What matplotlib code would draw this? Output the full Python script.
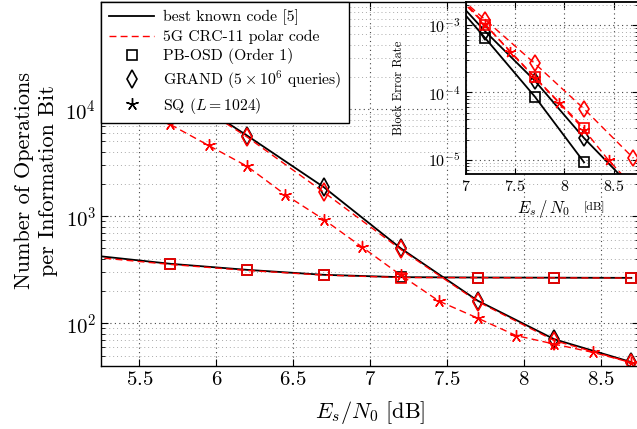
import matplotlib
matplotlib.use('Agg')
import matplotlib.pyplot as plt
import matplotlib.ticker as ticker
from matplotlib.lines import Line2D

plt.rcParams['font.family'] = 'serif'
plt.rcParams['font.serif'] = ['cmr10']
plt.rcParams['mathtext.fontset'] = 'cm'
plt.rcParams['axes.formatter.use_mathtext'] = True

# ---- main plot: complexity (operations per information bit) ----
x_osd = [5.2, 5.7, 6.2, 6.7, 7.2, 7.7, 8.2, 8.7]
ops_osd_best = [430, 360, 316, 284, 270, 268, 267, 266]
ops_osd_polar = [415, 355, 312, 282, 268, 267, 266, 265]

x_grand = [5.7, 6.2, 6.7, 7.2, 7.7, 8.2, 8.7]
ops_grand_best = [16500, 5670, 1866, 502, 163, 71, 43.5]
ops_grand_polar = [16000, 5500, 1675, 490, 160, 69, 43]

x_sq = [5.45, 5.7, 5.95, 6.2, 6.45, 6.7, 6.95, 7.2, 7.45, 7.7, 7.95, 8.2, 8.45, 8.7]
ops_sq_polar = [11500, 7200, 4580, 2930, 1585, 931, 514, 282, 161, 112, 77, 64, 53.6, 43]

# ---- inset: block error rate ----
xb_osd = [6.7, 7.2, 7.7, 8.2]
bler_osd_best = [4.5e-3, 6.35e-4, 8.7e-5, 9.2e-6]
bler_osd_polar = [5.6e-3, 1.0e-3, 1.69e-4, 2.97e-5]

xb_grand = [6.7, 7.2, 7.7, 8.2, 8.7]
bler_grand_best = [5.0e-3, 8.0e-4, 1.5e-4, 2.1e-5, 3.7e-6]
bler_grand_polar = [5.2e-3, 1.19e-3, 2.7e-4, 5.7e-5, 1.06e-5]

xb_sq = [6.95, 7.2, 7.45, 7.7, 7.95, 8.2, 8.45, 8.7]
bler_sq_polar = [2.5e-3, 1.02e-3, 4.0e-4, 1.66e-4, 6.9e-5, 2.8e-5, 9.8e-6, 4.0e-6]

RED = '#ff0000'
STAR = (5, 2, 0)
DASH = (5, 3)

fig = plt.figure(figsize=(6.37, 4.29), dpi=100)
ax = fig.add_axes([101 / 637, 63 / 429, 538 / 637, 364 / 429])

mk = dict(markerfacecolor='none', markeredgewidth=1.2)
# black = best known code, red dashed = polar code
ax.plot(x_osd, ops_osd_best, color='black', lw=1.3, marker='s', ms=7,
        markevery=slice(1, None), markeredgecolor='black', **mk)
ax.plot(x_grand, ops_grand_best, color='black', lw=1.3, marker='d', ms=9,
        markevery=slice(1, None), markeredgecolor='black', **mk)
ax.plot(x_osd, ops_osd_polar, color=RED, lw=1.0, dashes=DASH, marker='s', ms=7,
        markevery=slice(1, None), markeredgecolor=RED, **mk)
ax.plot(x_grand, ops_grand_polar, color=RED, lw=1.0, dashes=DASH, marker='d', ms=9,
        markevery=slice(1, None), markeredgecolor=RED, **mk)
ax.plot(x_sq, ops_sq_polar, color=RED, lw=1.0, dashes=DASH, marker=STAR, ms=9,
        markeredgecolor=RED, markeredgewidth=1.0)

ax.set_yscale('log')
ax.set_xlim(5.25, 8.75)
ax.set_ylim(40, 1e5)
ax.xaxis.set_major_locator(ticker.FixedLocator([5.5, 6, 6.5, 7, 7.5, 8, 8.5]))
ax.xaxis.set_major_formatter(ticker.FuncFormatter(lambda v, p: f'${v:g}$'))
ax.yaxis.set_major_locator(ticker.FixedLocator([1e2, 1e3, 1e4]))
ax.tick_params(which='both', direction='in', top=True, right=True, labelsize=15)
ax.tick_params(which='major', length=5)
ax.tick_params(which='minor', length=3)
ax.grid(which='major', linestyle=(0, (1, 3)), color='#444444', lw=0.8)
ax.grid(which='minor', axis='y', linestyle=(0, (1, 3)), color='#aaaaaa', lw=0.7)
for s in ax.spines.values():
    s.set_linewidth(1.0)

ax.set_xlabel(r'$E_s/N_0$ [dB]', fontsize=16, labelpad=7)
ax.set_ylabel('Number of Operations\nper Information Bit', fontsize=16,
              linespacing=1.3)
ax.yaxis.set_label_coords(-0.08, 0.51)

handles = [
    Line2D([], [], color='black', lw=1.3),
    Line2D([], [], color=RED, lw=1.0, dashes=DASH),
    Line2D([], [], color='black', ls='none', marker='s', ms=7, **mk),
    Line2D([], [], color='black', ls='none', marker='d', ms=9, **mk),
    Line2D([], [], color='black', ls='none', marker=STAR, ms=9, markeredgewidth=1.0),
]
labels = ['best known code [5]', '5G CRC-11 polar code', 'PB-OSD (Order 1)',
          r'GRAND ($5\times10^{6}$ queries)', r'SQ ($L=1024$)']
leg = ax.legend(handles, labels, loc='upper left', bbox_to_anchor=(0, 1),
                borderaxespad=0, fontsize=11.3, fancybox=False, framealpha=1,
                edgecolor='black', handlelength=2.9, handletextpad=0.55,
                labelspacing=0.28, borderpad=0.5)
leg.get_frame().set_linewidth(1.0)
leg.set_zorder(10)

# ---- inset ----
ins = fig.add_axes([465.7 / 637, 254.7 / 429, 172.6 / 637, 172.3 / 429])
ins.set_zorder(20)
ins.plot(xb_osd, bler_osd_best, color='black', lw=1.3, marker='s', ms=7,
         markeredgecolor='black', **mk)
ins.plot(xb_grand, bler_grand_best, color='black', lw=1.3, marker='d', ms=8,
         markeredgecolor='black', **mk)
ins.plot(xb_osd, bler_osd_polar, color=RED, lw=1.0, dashes=DASH, marker='s', ms=7,
         markeredgecolor=RED, **mk)
ins.plot(xb_grand, bler_grand_polar, color=RED, lw=1.0, dashes=DASH, marker='d', ms=8,
         markeredgecolor=RED, **mk)
ins.plot(xb_sq, bler_sq_polar, color=RED, lw=1.0, dashes=DASH, marker=STAR, ms=8,
         markeredgecolor=RED, markeredgewidth=1.0)
ins.set_yscale('log')
ins.set_xlim(7, 8.75)
ins.set_ylim(6.1e-6, 2.2e-3)
ins.xaxis.set_major_locator(ticker.FixedLocator([7, 7.5, 8, 8.5]))
ins.xaxis.set_major_formatter(ticker.FuncFormatter(lambda v, p: f'${v:g}$'))
ins.yaxis.set_major_locator(ticker.FixedLocator([1e-5, 1e-4, 1e-3]))
ins.tick_params(which='both', direction='in', top=True, right=True, labelsize=11.5)
ins.tick_params(which='major', length=4)
ins.tick_params(which='minor', length=2.5)
ins.grid(which='major', linestyle=(0, (1, 3)), color='#444444', lw=0.8)
ins.grid(which='minor', axis='y', linestyle=(0, (1, 3)), color='#aaaaaa', lw=0.7)
for s in ins.spines.values():
    s.set_linewidth(1.3)
ins.set_xlabel(r'$E_s\,/\,N_0$', fontsize=12, labelpad=0)
ins.xaxis.set_label_coords(0.45, -0.14)
ins.text(0.745, -0.19, '[dB]', transform=ins.transAxes, fontsize=8.5,
         ha='center', va='center')
ins.set_ylabel('Block Error Rate', fontsize=9)
ins.yaxis.set_label_coords(-0.35, 0.5)

fig.savefig('out.png', dpi=100)
